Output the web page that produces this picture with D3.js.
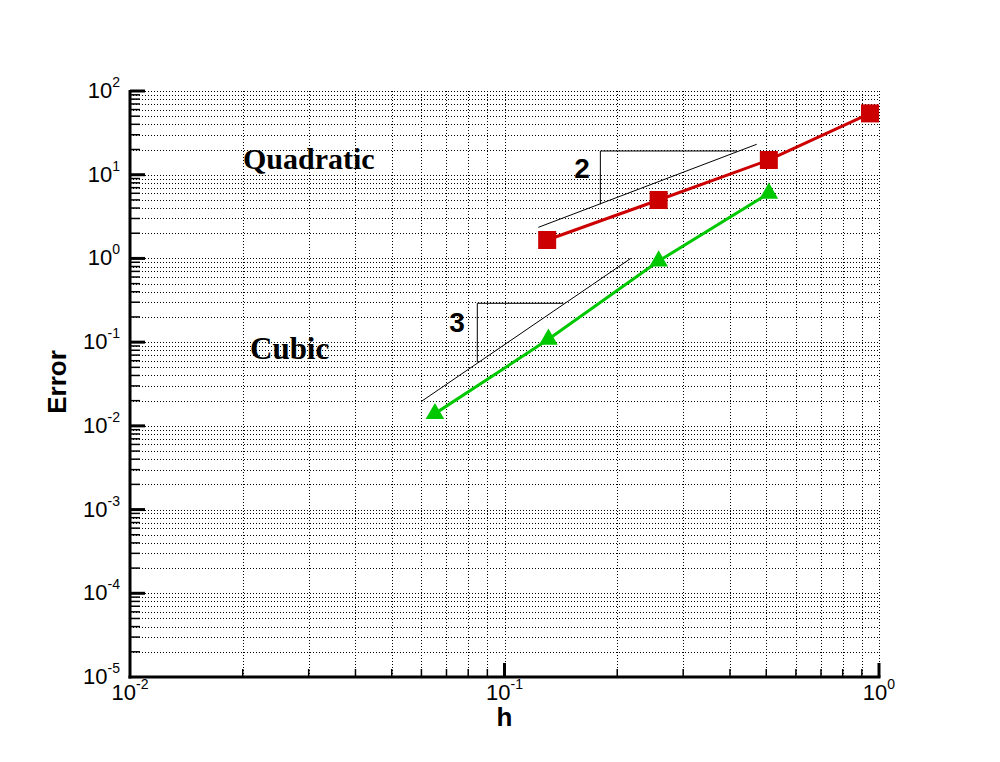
<!DOCTYPE html>
<html>
<head>
<meta charset="utf-8">
<script src="https://cdn.jsdelivr.net/npm/d3@7"></script>
<style>
  html, body { margin: 0; padding: 0; background: #fff; }
  svg { display: block; }
</style>
</head>
<body>
<svg id="chart" width="1000" height="762"></svg>
<script>
// ---- data ----
const quadH = [0.13, 0.258, 0.508, 0.946];
const quadErr = [1.66, 4.99, 15.0, 54];
const cubicH = [0.0652, 0.131, 0.258, 0.508];
const cubicErr = [0.0140, 0.108, 0.93, 6.0];
// slope-indicator lines: [h, error] pairs
const quadSlopeLine = [[0.1231, 2.35], [0.4715, 23.1]];
const quadSlopeLeg = [[0.1803, 4.43], [0.1803, 19.2], [0.4176, 19.2]];
const cubicSlopeLine = [[0.0602, 0.0198], [0.2173, 1.0]];
const cubicSlopeLeg = [[0.0846, 0.0574], [0.0846, 0.291], [0.1436, 0.291]];
const xTickExps = [-2, -1, 0];
const yTickExps = [-5, -4, -3, -2, -1, 0, 1, 2];
const seriesNames = ["Quadratic", "Cubic"];

// ---- layout ----
const svg = d3.select("#chart");
const L = 130, R = 879, T = 91, B = 677;
const x = d3.scaleLog().domain([1e-2, 1]).range([L, R]);
const y = d3.scaleLog().domain([1e-5, 1e2]).range([B, T]);

svg.append("rect").attr("width", 1000).attr("height", 762).attr("fill", "#fff");

// grid values
const xGrid = [];
for (let e = -2; e < 0; e++) for (let m = 1; m <= 9; m++) xGrid.push(m * Math.pow(10, e));
xGrid.push(1);
const yGrid = [];
for (let e = -5; e < 2; e++) for (let m = 1; m <= 9; m++) yGrid.push(m * Math.pow(10, e));
yGrid.push(100);

const g = svg.append("g");
g.selectAll(".gx").data(xGrid.filter(v => v > 1.0001e-2)).enter().append("line")
  .attr("x1", d => Math.round(x(d)) + 0.5).attr("x2", d => Math.round(x(d)) + 0.5)
  .attr("y1", T).attr("y2", B)
  .attr("stroke", "#000").attr("stroke-width", 1).attr("stroke-dasharray", "1,2");
g.selectAll(".gy").data(yGrid.filter(v => v > 1.0001e-5)).enter().append("line")
  .attr("y1", d => Math.round(y(d)) + 0.5).attr("y2", d => Math.round(y(d)) + 0.5)
  .attr("x1", L).attr("x2", R)
  .attr("stroke", "#000").attr("stroke-width", 1).attr("stroke-dasharray", "1,2");

// axes lines
svg.append("line").attr("x1", L).attr("x2", L).attr("y1", T - 1).attr("y2", B + 1.5)
  .attr("stroke", "#000").attr("stroke-width", 3);
svg.append("line").attr("x1", L - 1.5).attr("x2", R + 1.5).attr("y1", B).attr("y2", B)
  .attr("stroke", "#000").attr("stroke-width", 3);

const isMajor = v => Math.abs(Math.log10(v) - Math.round(Math.log10(v))) < 1e-6;
// y ticks (inward)
svg.selectAll(".ty").data(yGrid.filter(v => v > 1.0001e-5)).enter().append("line")
  .attr("x1", L).attr("x2", d => L + (isMajor(d) ? 15 : 10))
  .attr("y1", d => y(d)).attr("y2", d => y(d))
  .attr("stroke", "#000").attr("stroke-width", d => isMajor(d) ? 3 : 1.5);
// x ticks (inward)
svg.selectAll(".tx").data(xGrid.filter(v => v > 1.0001e-2)).enter().append("line")
  .attr("y1", B).attr("y2", d => B - (isMajor(d) ? 14 : 8))
  .attr("x1", d => x(d)).attr("x2", d => x(d))
  .attr("stroke", "#000").attr("stroke-width", d => isMajor(d) ? 3 : 1.5);

// tick labels
const font = "'Liberation Sans', Arial, sans-serif";
function powLabel(sel, e) {
  sel.append("tspan").text("10");
  sel.append("tspan").attr("dy", -11).attr("font-size", 14).text(e);
}
xTickExps.forEach(e => {
  const t = svg.append("text").attr("x", x(Math.pow(10, e))).attr("y", 700)
    .attr("text-anchor", "middle").attr("font-family", font).attr("font-size", 22).attr("fill", "#000");
  powLabel(t, e);
});
yTickExps.forEach(e => {
  const t = svg.append("text").attr("x", 120).attr("y", y(Math.pow(10, e)) + 7)
    .attr("text-anchor", "end").attr("font-family", font).attr("font-size", 22).attr("fill", "#000");
  powLabel(t, e);
});

// axis titles
svg.append("text").attr("x", x(0.1)).attr("y", 726).attr("text-anchor", "middle")
  .attr("font-family", font).attr("font-weight", "bold").attr("font-size", 26).text("h");
svg.append("text").attr("transform", "translate(66,382) rotate(-90)").attr("text-anchor", "middle")
  .attr("font-family", font).attr("font-weight", "bold").attr("font-size", 26).text("Error");

// slope indicators
const line = d3.line().x(d => x(d[0])).y(d => y(d[1]));
[quadSlopeLine, quadSlopeLeg, cubicSlopeLine, cubicSlopeLeg].forEach(pts => {
  svg.append("path").attr("d", line(pts)).attr("fill", "none").attr("stroke", "#000").attr("stroke-width", 1);
});
svg.append("text").attr("x", 582).attr("y", 178).attr("text-anchor", "middle")
  .attr("font-family", font).attr("font-weight", "bold").attr("font-size", 28).text("2");
svg.append("text").attr("x", 457).attr("y", 332).attr("text-anchor", "middle")
  .attr("font-family", font).attr("font-weight", "bold").attr("font-size", 28).text("3");

// series
const red = "#cc0000", green = "#00c800";
const qData = quadH.map((h, i) => [h, quadErr[i]]);
const cData = cubicH.map((h, i) => [h, cubicErr[i]]);
svg.append("path").attr("d", line(qData)).attr("fill", "none").attr("stroke", red).attr("stroke-width", 3);
svg.append("path").attr("d", line(cData)).attr("fill", "none").attr("stroke", green).attr("stroke-width", 3);
svg.selectAll(".sq").data(qData).enter().append("path")
  .attr("d", d3.symbol().type(d3.symbolSquare).size(324))
  .attr("transform", d => `translate(${x(d[0])},${y(d[1])})`).attr("fill", red);
svg.selectAll(".tri").data(cData).enter().append("path")
  .attr("d", d3.symbol().type(d3.symbolTriangle).size(150))
  .attr("transform", d => `translate(${x(d[0])},${y(d[1])})`).attr("fill", green);

// series labels
const serif = "'Liberation Serif', 'Times New Roman', serif";
svg.append("text").attr("x", 243).attr("y", 169).attr("font-family", serif).attr("font-weight", "bold")
  .attr("font-size", 30).attr("fill", "#000").text(seriesNames[0]);
svg.append("text").attr("x", 250).attr("y", 359).attr("font-family", serif).attr("font-weight", "bold")
  .attr("font-size", 31).attr("fill", "#000").text(seriesNames[1]);
</script>
</body>
</html>
